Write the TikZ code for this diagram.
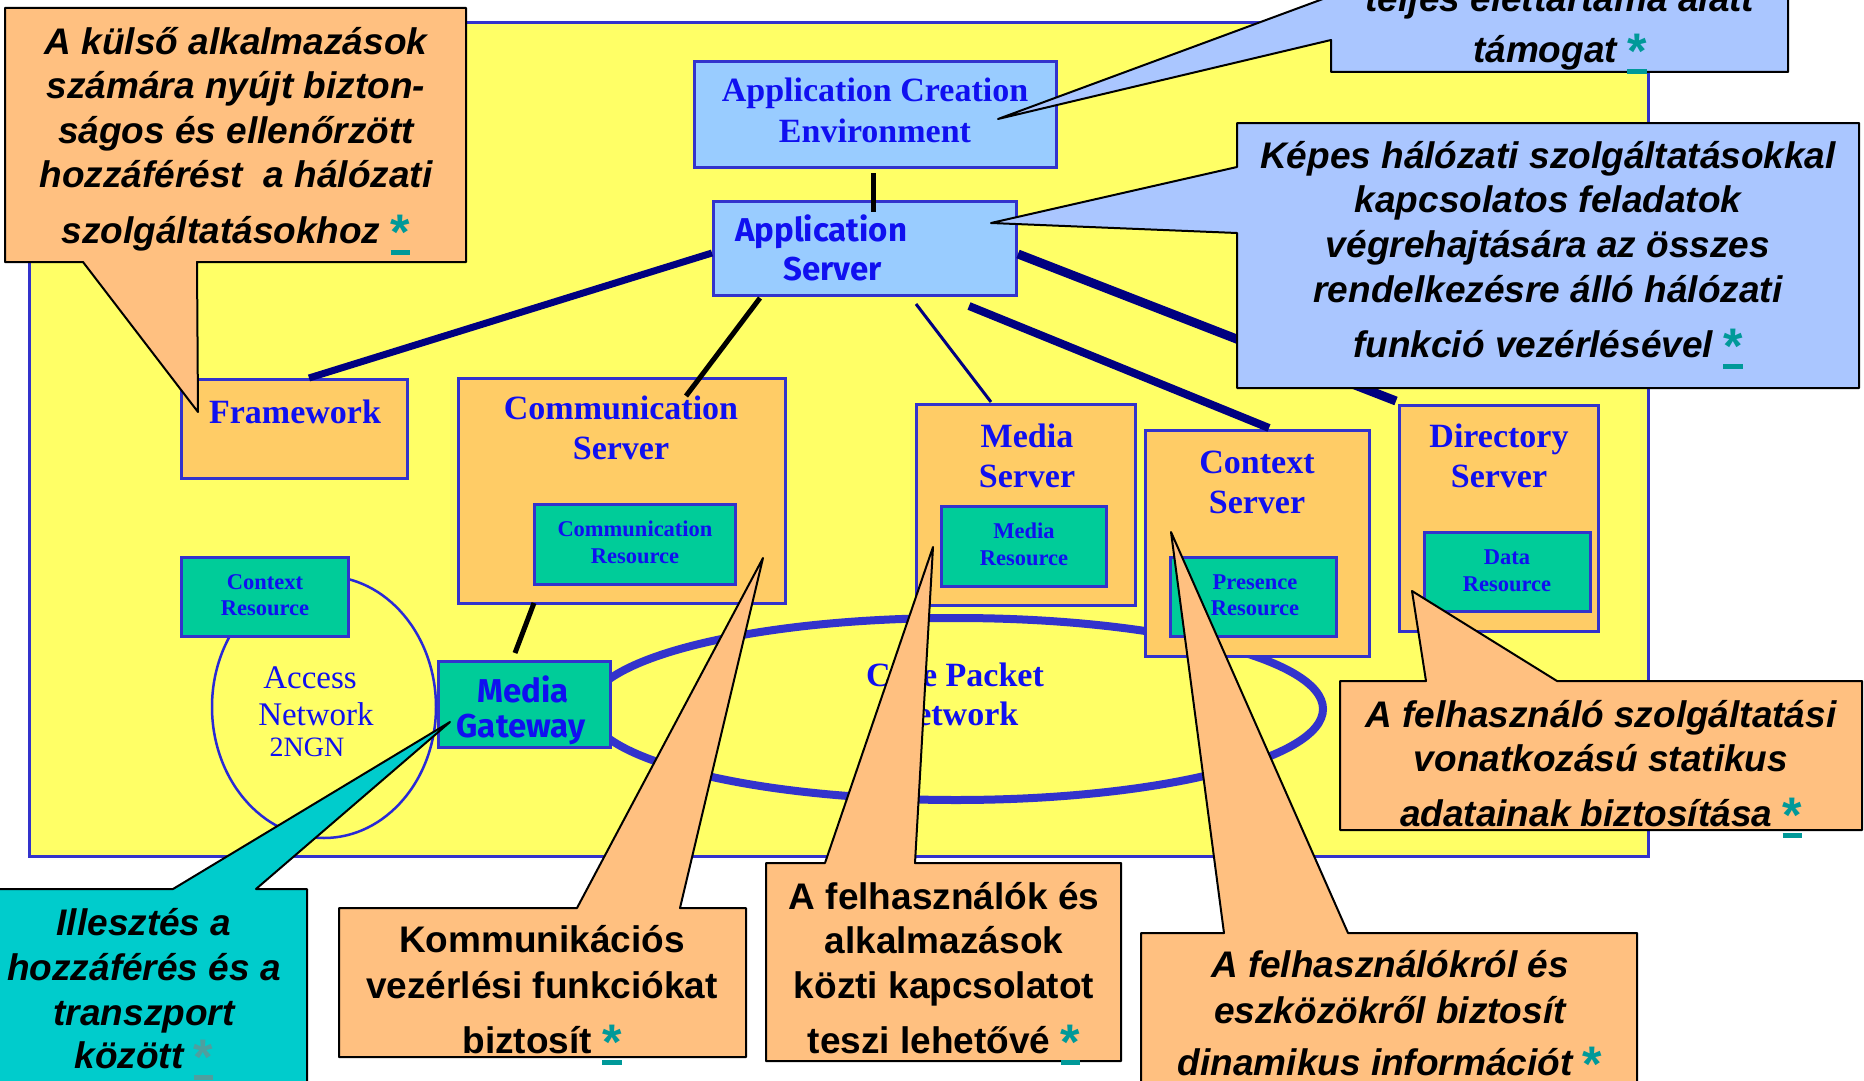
\documentclass[tikz,border=0pt]{standalone}
\usepackage{fontspec}
\setmainfont{Liberation Serif}
\newfontfamily\arialf{Liberation Sans}
\newfontfamily\comicf{Fira Sans}

\definecolor{bgyellow}{HTML}{FFFF66}
\definecolor{bordblue}{HTML}{3333CC}
\definecolor{srvorange}{HTML}{FFCC66}
\definecolor{resgreen}{HTML}{00CC99}
\definecolor{appblue}{HTML}{99CCFF}
\definecolor{txtblue}{HTML}{1010F0}
\definecolor{navyline}{HTML}{000080}
\definecolor{callpeach}{HTML}{FFC080}
\definecolor{callblue}{HTML}{AAC6FF}
\definecolor{callteal}{HTML}{00CCCC}
\definecolor{starteal}{HTML}{009999}
\definecolor{stargrey}{HTML}{4F9F9F}

% raised, underlined link asterisk
\newcommand\starlink[1][starteal]{{\color{#1}\setbox0\hbox{\arialf\bfseries\upshape\fontsize{50}{50}\selectfont *}%
  \rlap{\rule[-11.5pt]{\wd0}{5pt}}\raisebox{-6pt}{\box0}}}

\tikzset{
  srvbox/.style={draw=bordblue, line width=3pt, fill=srvorange, inner sep=0pt},
  resbox/.style={srvbox, fill=resgreen},
  appbox/.style={srvbox, fill=appblue},
  hdr/.style={font=\bfseries\fontsize{34}{40}\selectfont, text=txtblue, anchor=base, inner sep=0pt},
  reslbl/.style={hdr, font=\bfseries\fontsize{22.5}{27}\selectfont},
  netlbl/.style={hdr, font=\fontsize{33}{40}\selectfont},
  comiclbl/.style={hdr, font=\comicf\bfseries\fontsize{33}{40}\selectfont},
  navylink/.style={draw=navyline},
  blacklink/.style={draw=black, line width=5pt},
  callout/.style={draw=black, line width=2pt, line join=round},
  ctxt/.style={font=\arialf\bfseries\itshape\fontsize{37}{44}\selectfont, anchor=base, inner sep=0pt},
  cbold/.style={ctxt, font=\arialf\bfseries\fontsize{37}{44}\selectfont},
}

\begin{document}
\begin{tikzpicture}[x=1pt, y=-1pt]
\useasboundingbox (0,0) rectangle (1864,1081);
\clip (0,0) rectangle (1864,1081);
\fill[white] (0,0) rectangle (1864,1081);

% network area
\filldraw[fill=bgyellow, draw=bordblue, line width=3pt] (29,23) rectangle (1648,856);

% networks
\draw[bordblue, line width=8pt] (956,709) ellipse [x radius=367, y radius=91];
\draw[bordblue!80!blue, line width=2.5pt] (324,707) ellipse [x radius=112, y radius=131];

% boxes
\node[appbox, minimum width=362pt, minimum height=106pt] (ace) at (875.5,114.5) {};
\node[appbox, minimum width=303pt, minimum height=94pt] (appsrv) at (865,248.5) {};
\node[srvbox, minimum width=226pt, minimum height=99pt] (frame) at (294.5,429) {};
\node[srvbox, minimum width=327pt, minimum height=225pt] (commsrv) at (622,491) {};
\node[resbox, minimum width=201pt, minimum height=80pt] (commres) at (635,544.5) {};
\node[resbox, minimum width=167pt, minimum height=79pt] (ctxres) at (265,597) {};
\node[resbox, minimum width=172pt, minimum height=86pt] (mgw) at (524.5,704.5) {};
\node[srvbox, minimum width=219pt, minimum height=201pt] (mediasrv) at (1026,505) {};
\node[resbox, minimum width=165pt, minimum height=80pt] (mediares) at (1024,546.5) {};
\node[srvbox, minimum width=224pt, minimum height=226pt] (ctxsrv) at (1257.5,543.5) {};
\node[resbox, minimum width=166pt, minimum height=79pt] (presres) at (1253.5,597) {};
\node[srvbox, minimum width=199pt, minimum height=226pt] (dirsrv) at (1499,518.5) {};
\node[resbox, minimum width=166pt, minimum height=79pt] (datares) at (1507.5,572) {};

% box labels
\node[hdr] (ace1) at (875,102) {Application Creation};
\node[hdr] (ace2) at (875,142) {Environment};
\node[comiclbl, anchor=base west] (as1) at (735,241) {Application};
\node[comiclbl, anchor=base west] (as2) at (783,280) {Server};
\node[hdr] (fw1) at (295,423) {Framework};
\node[hdr] (cs1) at (621,419) {Communication};
\node[hdr] (cs2) at (621,459) {Server};
\node[reslbl] (cr1) at (635,536) {Communication};
\node[reslbl] (cr2) at (635,563) {Resource};
\node[reslbl] (xr1) at (265,589) {Context};
\node[reslbl] (xr2) at (265,615) {Resource};
\node[hdr] (ms1) at (1027,447) {Media};
\node[hdr] (ms2) at (1027,487) {Server};
\node[reslbl] (mr1) at (1024,538) {Media};
\node[reslbl] (mr2) at (1024,565) {Resource};
\node[hdr] (xs1) at (1257,473) {Context};
\node[hdr] (xs2) at (1257,513) {Server};
\node[reslbl] (pr1) at (1255,589) {Presence};
\node[reslbl] (pr2) at (1255,615) {Resource};
\node[hdr] (ds1) at (1499,447) {Directory};
\node[hdr] (ds2) at (1499,487) {Server};
\node[reslbl] (dr1) at (1507,564) {Data};
\node[reslbl] (dr2) at (1507,591) {Resource};
\node[hdr] (cp1) at (955,686) {Core Packet};
\node[hdr] (cp2) at (955,725) {Network};
\node[netlbl] (an1) at (310,688) {Access};
\node[netlbl] (an2) at (316,725) {Network};
\node[netlbl, font=\fontsize{28}{34}\selectfont] (an3) at (307,756) {2NGN};
\node[comiclbl] (mg1) at (523,702) {Media};
\node[comiclbl] (mg2) at (521,737) {Gateway};

% connectors
\draw[blacklink] ([xshift=-2.5pt,yshift=-4pt]ace.south) -- ([xshift=8pt,yshift=-12pt]appsrv.north);
\draw[navylink, line width=7pt] ([yshift=-4.5pt]appsrv.west) -- ([xshift=14.5pt]frame.north);
\draw[blacklink] ([xshift=-105pt,yshift=-1pt]appsrv.south) -- ([xshift=64pt,yshift=-19pt]commsrv.north);
\draw[navylink, line width=3pt] ([xshift=51pt,yshift=-7pt]appsrv.south) -- ([xshift=-35pt,yshift=1pt]mediasrv.north);
\draw[navylink, line width=8pt] ([xshift=104pt,yshift=-9pt]appsrv.south) -- ([xshift=11.5pt,yshift=1pt]ctxsrv.north);
\draw[navylink, line width=9pt] ([yshift=-5.5pt]appsrv.east) -- ([xshift=-2pt,yshift=3pt]dirsrv.north west);
\draw[blacklink] ([xshift=-88pt,yshift=2pt]commsrv.south) -- ([xshift=-9.5pt,yshift=7pt]mgw.north);

% callouts
\filldraw[callout, fill=callpeach] (5,8) -- (466,8) -- (466,262) -- (197,262) -- (198,412) -- (83,262) -- (5,262) -- cycle;
\filldraw[callout, fill=callblue] (1331,-60) -- (1788,-60) -- (1788,72) -- (1331,72) -- (1331,40) -- (998,119) -- (1331,-4) -- cycle;
\filldraw[callout, fill=callblue] (1237,123) -- (1859,123) -- (1859,388) -- (1237,388) -- (1237,233) -- (991,223) -- (1237,167) -- cycle;
\filldraw[callout, fill=callpeach] (1340,681) -- (1426,681) -- (1412,591) -- (1557,681) -- (1862,681) -- (1862,830) -- (1340,830) -- cycle;
\filldraw[callout, fill=callteal] (-5,889) -- (173,889) -- (450,722) -- (256,889) -- (307,889) -- (307,1100) -- (-5,1100) -- cycle;
\filldraw[callout, fill=callpeach] (339,908) -- (577,908) -- (763,558) -- (680,908) -- (746,908) -- (746,1057) -- (339,1057) -- cycle;
\filldraw[callout, fill=callpeach] (766,863) -- (825,863) -- (933,547) -- (915,863) -- (1121,863) -- (1121,1061) -- (766,1061) -- cycle;
\filldraw[callout, fill=callpeach] (1141,933) -- (1224,933) -- (1171,532) -- (1348,933) -- (1637,933) -- (1637,1100) -- (1141,1100) -- cycle;

% callout texts
\foreach \ln/\yy [count=\k] in {{A külső alkalmazások}/55, {számára nyújt bizton-}/99,
    {ságos és ellenőrzött}/143, {hozzáférést\ \ a hálózati}/187, {szolgáltatásokhoz \starlink}/243}
  \node[ctxt, name=ka\k] at (236,\yy) {\ln};
\foreach \ln/\yy [count=\k] in {{teljes élettartama alatt}/12, {támogat \starlink}/63}
  \node[ctxt, name=kb\k] at (1560,\yy) {\ln};
\foreach \ln/\yy [count=\k] in {{Képes hálózati szolgáltatásokkal}/168, {kapcsolatos feladatok}/212,
    {végrehajtására az összes}/257, {rendelkezésre álló hálózati}/302, {funkció vezérlésével \starlink}/357}
  \node[ctxt, name=kc\k] at (1548,\yy) {\ln};
\foreach \ln/\yy [count=\k] in {{A felhasználó szolgáltatási}/727, {vonatkozású statikus}/771,
    {adatainak biztosítása \starlink}/826}
  \node[ctxt, name=kd\k] at (1601,\yy) {\ln};
\foreach \ln/\yy [count=\k] in {{Illesztés a}/935, {hozzáférés és a}/980, {transzport}/1025,
    {között \starlink[stargrey]}/1068}
  \node[ctxt, name=ke\k] at (144,\yy) {\ln};
\foreach \ln/\yy [count=\k] in {{Kommunikációs}/952, {vezérlési funkciókat}/998, {biztosít \starlink}/1053}
  \node[cbold, name=kf\k] at (542,\yy) {\ln};
\foreach \ln/\yy [count=\k] in {{A felhasználók és}/909, {alkalmazások}/953, {közti kapcsolatot}/998,
    {teszi lehetővé \starlink}/1053}
  \node[cbold, name=kg\k] at (944,\yy) {\ln};
\foreach \ln/\yy [count=\k] in {{A felhasználókról és}/977, {eszközökről biztosít}/1023,
    {dinamikus információt \starlink}/1075}
  \node[ctxt, name=kh\k] at (1390,\yy) {\ln};
\end{tikzpicture}
\end{document}
